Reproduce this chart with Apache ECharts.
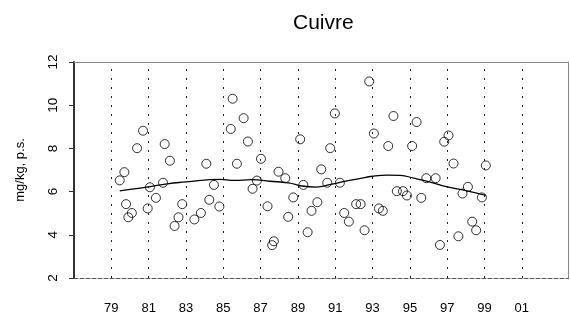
<!DOCTYPE html>
<html><head><meta charset="utf-8">
<script src="https://cdn.jsdelivr.net/npm/echarts@6/dist/echarts.min.js"></script>
<style>html,body{margin:0;padding:0;background:#fff}#c{width:570px;height:320px}</style>
</head><body><div id="c"></div>
<script>
const chartTitle = 'Cuivre';
const yAxisName = 'mg/kg, p.s.';
const tickYears = [79, 81, 83, 85, 87, 89, 91, 93, 95, 97, 99, 101];
const yTicks = [2, 4, 6, 8, 10, 12];

const sampleYears = [79.45, 79.7, 79.79, 79.91, 80.1, 80.38, 80.7, 80.95, 81.07, 81.39, 81.77, 81.86, 82.14, 82.39, 82.6, 82.8,
  83.45, 83.8, 84.09, 84.25, 84.5, 84.79, 85.4, 85.5, 85.73, 86.09, 86.32, 86.57, 86.8, 87.02, 87.37, 87.62, 87.71, 87.96,
  88.32, 88.48, 88.75, 89.12, 89.29, 89.52, 89.73, 90.04, 90.25, 90.57, 90.73, 90.98, 91.25, 91.48, 91.73, 92.12, 92.36,
  92.57, 92.82, 93.07, 93.34, 93.55, 93.84, 94.12, 94.3, 94.63, 94.84, 95.12, 95.36, 95.61, 95.88, 96.38, 96.61, 96.84,
  97.07, 97.34, 97.6, 97.82, 98.11, 98.34, 98.55, 98.86, 99.07];
const sampleValues = [6.52, 6.9, 5.42, 4.81, 5.01, 8.01, 8.82, 5.22, 6.2, 5.71, 6.41, 8.2, 7.43, 4.41, 4.81, 5.42,
  4.71, 5.01, 7.29, 5.62, 6.31, 5.31, 8.9, 10.3, 7.29, 9.4, 8.32, 6.13, 6.51, 7.52, 5.32, 3.52, 3.7, 6.92,
  6.62, 4.83, 5.73, 8.42, 6.31, 4.12, 5.11, 5.51, 7.03, 6.41, 8.01, 9.62, 6.41, 5.01, 4.61, 5.42, 5.42,
  4.21, 11.1, 8.69, 5.22, 5.11, 8.11, 9.5, 6.02, 6.02, 5.82, 8.11, 9.22, 5.71, 6.62, 6.62, 3.53, 8.31,
  8.6, 7.3, 3.93, 5.91, 6.22, 4.61, 4.21, 5.73, 7.21];

const trendYears = [79.45, 80, 81, 82, 83, 84, 84.8, 85.6, 86.5, 87.5, 88.5, 89.2, 90, 90.7, 91.5, 92.3, 93, 93.8, 94.5, 95.2, 96, 97, 98, 99.07];
const trendValues = [6.03, 6.1, 6.22, 6.36, 6.45, 6.53, 6.57, 6.52, 6.55, 6.48, 6.4, 6.26, 6.21, 6.32, 6.47, 6.6, 6.71, 6.76, 6.75, 6.62, 6.46, 6.22, 6.05, 5.83];

const FONT = 'Liberation Sans, Arial, sans-serif';
const chart = echarts.init(document.getElementById('c'), null, {renderer: 'canvas'});
const fmtYear = v => String(Math.round(v) % 100).padStart(2, '0');

chart.setOption({
  animation: false,
  backgroundColor: '#fff',
  title: {
    text: chartTitle, left: 288, top: 8,
    textStyle: {fontFamily: FONT, fontSize: 21, fontWeight: 'normal', color: '#000'}
  },
  grid: {left: 74, right: 1.5, top: 62, bottom: 42},
  xAxis: [{
    type: 'value', min: 77, max: 103.5,
    axisLine: {show: true, onZero: false, lineStyle: {color: '#555', width: 1, type: [4, 2]}},
    axisTick: {show: false},
    splitLine: {show: false},
    axisLabel: {
      customValues: tickYears, formatter: fmtYear, margin: 24,
      fontFamily: FONT, fontSize: 13, color: '#000'
    }
  }, {
    type: 'value', min: 77, max: 103.5, position: 'top',
    axisLine: {show: true, onZero: false, lineStyle: {color: '#888', width: 1}},
    axisTick: {show: false}, axisLabel: {show: false}, splitLine: {show: false}
  }],
  yAxis: [{
    type: 'value', min: 2, max: 12, interval: 2,
    name: yAxisName, nameLocation: 'middle', nameGap: 47, nameRotate: 90,
    nameTextStyle: {fontFamily: FONT, fontSize: 13, color: '#000'},
    axisLine: {show: true, onZero: false, lineStyle: {color: '#333', width: 2}},
    axisTick: {show: true, length: 5, lineStyle: {color: '#333', width: 1}},
    splitLine: {show: false},
    axisLabel: {
      customValues: yTicks, rotate: 90, margin: 14,
      fontFamily: FONT, fontSize: 13.5, color: '#000'
    }
  }, {
    type: 'value', min: 2, max: 12, position: 'right',
    axisLine: {show: true, onZero: false, lineStyle: {color: '#888', width: 1}},
    axisTick: {show: false}, axisLabel: {show: false}, splitLine: {show: false}
  }],
  series: [{
    type: 'scatter',
    symbol: 'circle', symbolSize: 9,
    itemStyle: {color: 'rgba(0,0,0,0)', borderColor: '#000', borderWidth: 1},
    data: sampleYears.map((x, i) => [x, sampleValues[i]]),
    markLine: {
      silent: true, symbol: 'none',
      label: {show: false},
      lineStyle: {color: '#222', width: 1, type: [2, 7]},
      data: tickYears.map(y => ({xAxis: y}))
    },
    z: 3
  }, {
    type: 'line',
    smooth: 0.5, showSymbol: false, symbol: 'none',
    lineStyle: {color: '#000', width: 1.3},
    data: trendYears.map((x, i) => [x, trendValues[i]]),
    z: 2
  }]
});
</script>
</body></html>
